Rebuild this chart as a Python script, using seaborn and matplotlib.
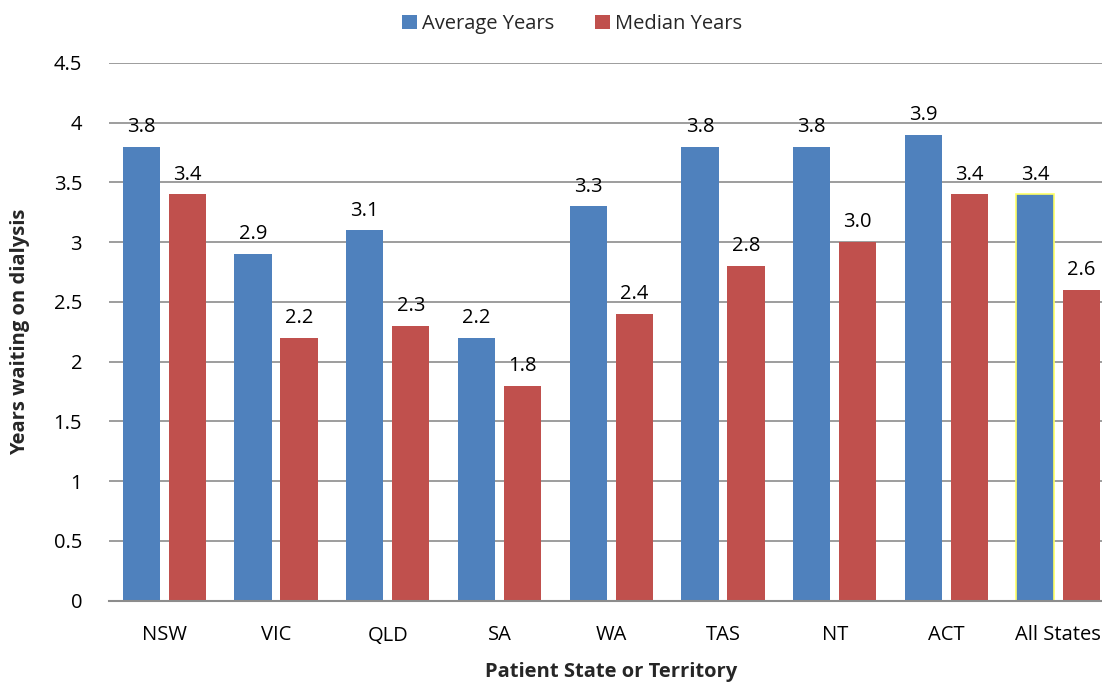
import matplotlib
matplotlib.use("Agg")
import matplotlib.pyplot as plt
import seaborn as sns
import pandas as pd
from matplotlib.patches import Patch

categories = ["NSW", "VIC", "QLD", "SA", "WA", "TAS", "NT", "ACT", "All States"]
average_years = [3.8, 2.9, 3.1, 2.2, 3.3, 3.8, 3.8, 3.9, 3.4]
median_years = [3.4, 2.2, 2.3, 1.8, 2.4, 2.8, 3.0, 3.4, 2.6]
series_names = ["Average Years", "Median Years"]
y_ticks = [0, 0.5, 1, 1.5, 2, 2.5, 3, 3.5, 4, 4.5]
y_tick_labels = ["0", "0.5", "1", "1.5", "2", "2.5", "3", "3.5", "4", "4.5"]

sns.set_theme(style="white")
plt.rcParams['font.family'] = ['Open Sans', 'DejaVu Sans']

df = pd.DataFrame({
    "State": categories * 2,
    "Years": average_years + median_years,
    "Series": [series_names[0]] * len(categories) + [series_names[1]] * len(categories),
})

colors = {"Average Years": "#4F81BD", "Median Years": "#C0504D"}
FS = 14.5

fig = plt.figure(figsize=(11.02, 6.83), dpi=100)
W, H = 1102, 683
left, right, top, bottom = 108.5, 1114, 63, 600.5
ax = fig.add_axes([left / W, 1 - bottom / H, (right - left) / W, (bottom - top) / H])

sns.barplot(data=df, x="State", y="Years", hue="Series", order=categories,
            hue_order=series_names, palette=colors, width=0.824, gap=0.19,
            ax=ax, legend=False, saturation=1, edgecolor="none", linewidth=0)

# Yellow outline on the All States average bar
for p in ax.patches:
    x = p.get_x() + p.get_width() / 2
    if abs(x - (8 - 0.206)) < 0.1 and p.get_facecolor()[2] > 0.6:
        p.set_edgecolor("#FFFF66")
        p.set_linewidth(1.2)

for c in ax.containers:
    ax.bar_label(c, fmt="%.1f", padding=7, fontsize=FS, color="#000000")

ax.set_ylim(0, 4.5)
ax.set_xlim(-0.5, len(categories) - 0.5)
ax.set_yticks(y_ticks)
ax.set_yticklabels(y_tick_labels)
ax.yaxis.grid(True, color="#8C8C8C", linewidth=1.2)
ax.set_axisbelow(True)
for s in ["top", "right", "left"]:
    ax.spines[s].set_visible(False)
ax.spines["bottom"].set_color("#8C8C8C")
ax.spines["bottom"].set_linewidth(1.5)
ax.tick_params(axis="both", length=0, labelsize=FS, colors="#000000")
ax.tick_params(axis="y", pad=19)
ax.tick_params(axis="x", pad=18)

ax.set_xlabel("Patient State or Territory", fontsize=FS, fontweight="bold", labelpad=12)
ax.set_ylabel("Years waiting on dialysis", fontsize=FS, fontweight="bold")
ax.yaxis.set_label_coords(-78 / (right - left), 0.5)

handles = [Patch(facecolor=colors[n], edgecolor="none", label=n) for n in series_names]
fig.legend(handles=handles, loc="center", bbox_to_anchor=(572 / W, 1 - 24 / H), ncol=2,
           frameon=False, fontsize=FS, handlelength=0.75, handleheight=0.75,
           handletextpad=0.25, columnspacing=2.0)

fig.savefig("out.png", dpi=100)
